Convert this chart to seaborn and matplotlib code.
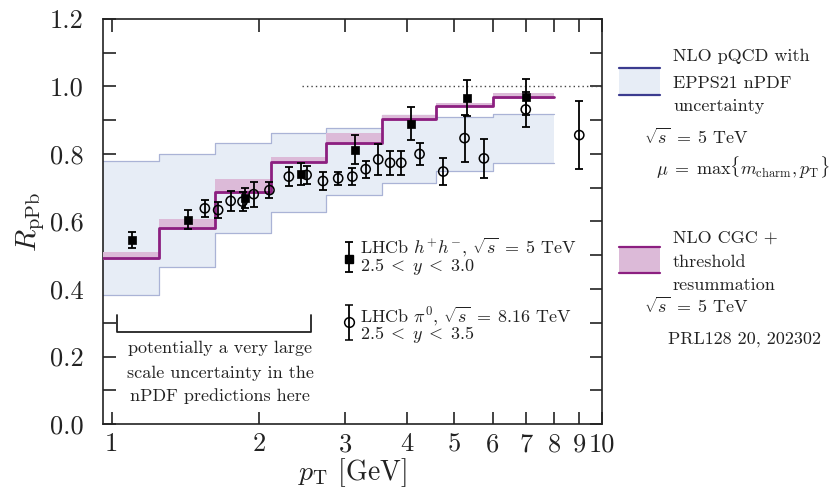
import matplotlib
matplotlib.use("Agg")
import matplotlib.pyplot as plt
import seaborn as sns
import pandas as pd
from matplotlib.patches import Rectangle
from matplotlib.lines import Line2D
from matplotlib.ticker import FixedLocator, FixedFormatter, NullLocator, MultipleLocator

# ---------------- data ----------------
bin_edges = [0.9, 1.25, 1.625, 2.115, 2.735, 3.555, 4.6, 6.0, 8.0]
epps_low = [0.382, 0.466, 0.566, 0.629, 0.679, 0.715, 0.750, 0.774]
epps_high = [0.780, 0.800, 0.832, 0.862, 0.877, 0.915, 0.910, 0.918]
cgc_central = [0.492, 0.581, 0.687, 0.776, 0.833, 0.904, 0.943, 0.970]
cgc_low = [0.485, 0.575, 0.682, 0.772, 0.828, 0.898, 0.938, 0.962]
cgc_high = [0.510, 0.607, 0.726, 0.792, 0.862, 0.916, 0.951, 0.980]

hh_pt = [1.1, 1.43, 1.87, 2.43, 3.14, 4.08, 5.3, 7.0]
hh_r = [0.545, 0.605, 0.670, 0.740, 0.812, 0.890, 0.965, 0.968]
hh_err = [0.025, 0.028, 0.030, 0.033, 0.043, 0.050, 0.053, 0.053]

pi0_pt = [1.55, 1.65, 1.75, 1.85, 1.95, 2.1, 2.3, 2.5, 2.7, 2.9, 3.1, 3.3,
          3.5, 3.7, 3.9, 4.25, 4.75, 5.25, 5.75, 7.0, 9.0]
pi0_r = [0.639, 0.634, 0.661, 0.659, 0.681, 0.693, 0.733, 0.738, 0.720, 0.728,
         0.733, 0.755, 0.784, 0.774, 0.774, 0.800, 0.748, 0.847, 0.787, 0.932, 0.856]
pi0_err = [0.025, 0.025, 0.030, 0.028, 0.037, 0.023, 0.027, 0.027, 0.027, 0.020,
           0.026, 0.025, 0.045, 0.035, 0.036, 0.032, 0.040, 0.070, 0.057, 0.052, 0.100]

x_ticks = [1, 2, 3, 4, 5, 6, 7, 8, 9, 10]
x_ticklabels = ["1", "2", "3", "4", "5", "6", "7", "8", "9", "10"]
y_ticks = [0.0, 0.2, 0.4, 0.6, 0.8, 1.0, 1.2]
y_ticklabels = ["0.0", "0.2", "0.4", "0.6", "0.8", "1.0", "1.2"]

# ---------------- style ----------------
sns.set_style("ticks")
plt.rcParams["font.family"] = ["cmr10", "DejaVu Serif"]
plt.rcParams["mathtext.fontset"] = "cm"
plt.rcParams["axes.formatter.use_mathtext"] = True
plt.rcParams["axes.unicode_minus"] = False

BLUE_FILL = "#e7edf6"
BLUE_EDGE = "#aab3d6"
NAVY = "#3b3b8f"
PINK_FILL = "#dcbad8"
PURPLE = "#8c1f80"
INK = "#222222"

W, H = 832, 494
fig = plt.figure(figsize=(W / 100, H / 100), dpi=100)
ax = fig.add_axes([103.3 / W, 1 - 424 / H, 498.4 / W, 405 / H])


def fx(px):
    return px / W


def fy(py):
    return 1 - py / H


def ext(v):
    return list(v) + [v[-1]]


# EPPS21 band
ax.fill_between(bin_edges, ext(epps_low), ext(epps_high), step="post",
                color=BLUE_FILL, lw=0, zorder=1)
ax.step(bin_edges, ext(epps_low), where="post", color=BLUE_EDGE, lw=0.9, zorder=2)
ax.step(bin_edges, ext(epps_high), where="post", color=BLUE_EDGE, lw=0.9, zorder=2)

# CGC band + central line
ax.fill_between(bin_edges, ext(cgc_low), ext(cgc_high), step="post",
                color=PINK_FILL, lw=0, zorder=3)
cgc_df = pd.DataFrame({"pt": bin_edges, "r": ext(cgc_central)})
sns.lineplot(data=cgc_df, x="pt", y="r", ax=ax, color=PURPLE, lw=2.0,
             drawstyle="steps-post", estimator=None, sort=False, zorder=4)

# dotted unity line
ax.plot([2.45, 10.5], [1.0, 1.0], ls=(0, (1, 2.2)), color="#444444", lw=1.0, zorder=2)

# data points
ax.errorbar(hh_pt, hh_r, yerr=hh_err, fmt="none", ecolor="black", elinewidth=1.3,
            capsize=3.2, capthick=1.3, zorder=6)
ax.errorbar(pi0_pt, pi0_r, yerr=pi0_err, fmt="none", ecolor="black", elinewidth=1.3,
            capsize=3.2, capthick=1.3, zorder=6)
hh_df = pd.DataFrame({"pt": hh_pt, "r": hh_r})
pi_df = pd.DataFrame({"pt": pi0_pt, "r": pi0_r})
sns.scatterplot(data=hh_df, x="pt", y="r", ax=ax, marker="s", s=34, color="black",
                edgecolor="black", linewidth=0.5, zorder=7)
sns.scatterplot(data=pi_df, x="pt", y="r", ax=ax, marker="o", s=44,
                facecolors="none", edgecolor="black", linewidth=1.1, zorder=7)

# axes
ax.set_xscale("log")
ax.set_xlim(0.962, 10.0)
ax.set_ylim(0.0, 1.2)
ax.xaxis.set_major_locator(FixedLocator(x_ticks))
ax.xaxis.set_major_formatter(FixedFormatter(x_ticklabels))
ax.xaxis.set_minor_locator(NullLocator())
ax.yaxis.set_major_locator(FixedLocator(y_ticks))
ax.yaxis.set_major_formatter(FixedFormatter(y_ticklabels))
ax.yaxis.set_minor_locator(MultipleLocator(0.1))
ax.tick_params(which="both", direction="in", top=True, right=True, length=9,
               width=1.2, color=INK, labelsize=19, labelcolor=INK)
ax.tick_params(axis="y", pad=14)
ax.tick_params(axis="x", pad=6)
for sp in ax.spines.values():
    sp.set_color(INK)
    sp.set_linewidth(1.2)
ax.set_xlabel(r"$p_{\mathrm{T}}$ [GeV]", fontsize=20, color=INK, labelpad=0)
ax.set_ylabel(r"$R_{\mathrm{pPb}}$", fontsize=21, color=INK, labelpad=2)

# in-axes data legend
ax.errorbar([0.493], [0.407], yerr=[[0.031], [0.043]], fmt="s", ms=6, color="black",
            elinewidth=1.3, capsize=3.2, capthick=1.3, transform=ax.transAxes, zorder=8)
ax.errorbar([0.493], [0.253], yerr=[[0.046], [0.041]], fmt="o", ms=7, mfc="none",
            mec="black", mew=1.1, color="black", elinewidth=1.3, capsize=3.2,
            capthick=1.3, transform=ax.transAxes, zorder=8)
tfs = 13
ax.text(0.515, 0.438, r"LHCb $h^{+}h^{-}$, $\sqrt{s}\;=\;5$ TeV", transform=ax.transAxes,
        fontsize=tfs, va="center", ha="left", color=INK)
ax.text(0.515, 0.388, r"$2.5\;<\;y\;<\;3.0$", transform=ax.transAxes,
        fontsize=tfs, va="center", ha="left", color=INK)
ax.text(0.515, 0.269, r"LHCb $\pi^{0}$, $\sqrt{s}\;=\;8.16$ TeV", transform=ax.transAxes,
        fontsize=tfs, va="center", ha="left", color=INK)
ax.text(0.515, 0.220, r"$2.5\;<\;y\;<\;3.5$", transform=ax.transAxes,
        fontsize=tfs, va="center", ha="left", color=INK)

# bracket annotation
ax.plot([0.027, 0.027, 0.416, 0.416], [0.269, 0.228, 0.228, 0.269],
        transform=ax.transAxes, color=INK, lw=1.3, zorder=8)
for yy, s in [(0.188, "potentially a very large"),
              (0.126, "scale uncertainty in the"),
              (0.069, "nPDF predictions here")]:
    ax.text(0.235, yy, s, transform=ax.transAxes, fontsize=tfs, ha="center",
            va="center", color=INK)

# right-hand legend (figure coords)
fig.patches.append(Rectangle((fx(619), fy(95)), (660 - 619) / W, (95 - 68) / H,
                             facecolor=BLUE_FILL, edgecolor="none",
                             transform=fig.transFigure, figure=fig))
for py in (68, 95):
    fig.lines.append(Line2D([fx(619), fx(660)], [fy(py), fy(py)], color=NAVY, lw=1.6,
                            transform=fig.transFigure, figure=fig))
fig.patches.append(Rectangle((fx(619), fy(273)), (660 - 619) / W, (273 - 247) / H,
                             facecolor=PINK_FILL, edgecolor="none",
                             transform=fig.transFigure, figure=fig))
for py in (247, 273):
    fig.lines.append(Line2D([fx(619), fx(660)], [fy(py), fy(py)], color=PURPLE, lw=1.6,
                            transform=fig.transFigure, figure=fig))

lfs = 13
for px, py, s in [(673, 61.5, "NLO pQCD with"),
                  (673, 87.5, "EPPS21 nPDF"),
                  (673, 111, "uncertainty"),
                  (644, 144, r"$\sqrt{s}\;=\;5$ TeV"),
                  (656, 175, r"$\mu\;=\;\max\{m_{\mathrm{charm}}, p_{\mathrm{T}}\}$"),
                  (673, 243, "NLO CGC +"),
                  (673, 267, "threshold"),
                  (673, 290, "resummation"),
                  (644, 313, r"$\sqrt{s}\;=\;5$ TeV"),
                  (668, 344, "PRL128 20, 202302")]:
    fig.text(fx(px), fy(py), s, fontsize=lfs, ha="left", va="baseline", color=INK)

fig.savefig("out.png", dpi=100)
